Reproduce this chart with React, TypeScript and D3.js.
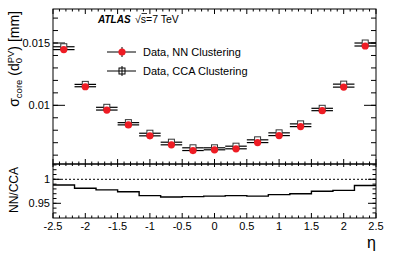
import React from "react";
import * as d3 from "d3";

// eta bin centres (15 bins of width 1/3)
const etaBins = [-2.333, -2, -1.667, -1.333, -1, -0.667, -0.333, 0, 0.333, 0.667, 1, 1.333, 1.667, 2, 2.333];
const binWidth = 0.3333;
// sigma_core(d0) in mm
const ccaValues = [0.0147, 0.01168, 0.00984, 0.00861, 0.00776, 0.00704, 0.00659, 0.00659, 0.00672, 0.00723, 0.00779, 0.00851, 0.00976, 0.0117, 0.015];
const nnValues = [0.01447, 0.01149, 0.00962, 0.00843, 0.00755, 0.00683, 0.00637, 0.00643, 0.00651, 0.00701, 0.00757, 0.00829, 0.00957, 0.01146, 0.01476];
const ratioValues = [0.988, 0.9815, 0.978, 0.974, 0.966, 0.963, 0.964, 0.965, 0.966, 0.965, 0.968, 0.97, 0.975, 0.977, 0.987];

const xTicks = [-2.5, -2, -1.5, -1, -0.5, 0, 0.5, 1, 1.5, 2, 2.5];
const xTickLabels = ["-2.5", "-2", "-1.5", "-1", "-0.5", "0", "0.5", "1", "1.5", "2", "2.5"];
const topTicks = [0.01, 0.015];
const topTickLabels = ["0.01", "0.015"];
const ratioTicks = [0.95, 1];
const ratioTickLabels = ["0.95", "1"];

const W = 407, H = 254;
const L = 53, R = 376;
const topY0 = 9, topY1 = 164, botY1 = 218;
const font = "'Liberation Sans', Arial, Helvetica, sans-serif";

export default function App() {
  const x = d3.scaleLinear().domain([-2.5, 2.5]).range([L, R]);
  const yTop = d3.scaleLinear().domain([0.00529, 0.01773]).range([topY1, topY0]);
  const yBot = d3.scaleLinear().domain([0.9194, 1.0319]).range([botY1, topY1]);

  const xMinor = d3.range(-25, 26).map(v => v / 10);
  const topMinor = d3.range(6, 18).map(v => v / 1000);
  const botMinor = d3.range(93, 104).map(v => v / 100);
  const isMajorX = (v: number) => Math.abs(v * 2 - Math.round(v * 2)) < 1e-6;

  const stepPts: [number, number][] = etaBins.map((e, i) => [e - binWidth / 2, ratioValues[i]]);
  stepPts.push([2.5, ratioValues[ratioValues.length - 1]]);
  const step = d3.line<[number, number]>().x(d => x(d[0])).y(d => yBot(d[1])).curve(d3.curveStepAfter);

  const ink = "#000";
  const sq = 6;

  return (
    <svg width={W} height={H} style={{ position: "absolute", left: 0, top: 0, background: "#fff" }} fontFamily={font}>
      <rect x={0} y={0} width={W} height={H} fill="#fff" />

      {/* ticks */}
      {xMinor.map((v, i) => {
        const maj = isMajorX(v);
        return (
          <g key={"xt" + i} stroke={ink} strokeWidth={1}>
            <line x1={x(v)} x2={x(v)} y1={topY1} y2={topY1 - (maj ? 5 : 2.5)} />
            <line x1={x(v)} x2={x(v)} y1={topY0} y2={topY0 + (maj ? 5 : 2.5)} />
            <line x1={x(v)} x2={x(v)} y1={topY1} y2={topY1 + (maj ? 3 : 2)} />
            <line x1={x(v)} x2={x(v)} y1={botY1} y2={botY1 - (maj ? 5 : 2.5)} />
          </g>
        );
      })}
      {topMinor.map((v, i) => (
        <g key={"ytm" + i} stroke={ink}>
          <line x1={L} x2={L + 5} y1={yTop(v)} y2={yTop(v)} />
          <line x1={R} x2={R - 5} y1={yTop(v)} y2={yTop(v)} />
        </g>
      ))}
      {topTicks.map((v, i) => (
        <g key={"ytM" + i}>
          <line x1={L} x2={L + 12} y1={yTop(v)} y2={yTop(v)} stroke={ink} />
          <line x1={R} x2={R - 12} y1={yTop(v)} y2={yTop(v)} stroke={ink} />
          <text x={L - 3} y={yTop(v)} dy="0.35em" textAnchor="end" fontSize={11}>{topTickLabels[i]}</text>
        </g>
      ))}
      {botMinor.map((v, i) => (
        <g key={"ybm" + i} stroke={ink}>
          <line x1={L} x2={L + 3.5} y1={yBot(v)} y2={yBot(v)} />
          <line x1={R} x2={R - 3.5} y1={yBot(v)} y2={yBot(v)} />
        </g>
      ))}
      {ratioTicks.map((v, i) => (
        <g key={"ybM" + i}>
          <line x1={L} x2={L + 8} y1={yBot(v)} y2={yBot(v)} stroke={ink} />
          <line x1={R} x2={R - 8} y1={yBot(v)} y2={yBot(v)} stroke={ink} />
          <text x={L - 3} y={yBot(v)} dy="0.35em" textAnchor="end" fontSize={11}>{ratioTickLabels[i]}</text>
        </g>
      ))}
      {xTicks.map((v, i) => (
        <text key={"xl" + i} x={x(v)} y={230} textAnchor="middle" fontSize={11}>{xTickLabels[i]}</text>
      ))}

      {/* frames */}
      <rect x={L} y={topY0} width={R - L} height={topY1 - topY0} fill="none" stroke={ink} strokeWidth={1} />
      <rect x={L} y={topY1} width={R - L} height={botY1 - topY1} fill="none" stroke={ink} strokeWidth={1} />

      {/* CCA points */}
      {etaBins.map((e, i) => (
        <g key={"c" + i}>
          <line x1={x(e - binWidth / 2)} x2={x(e + binWidth / 2)} y1={yTop(ccaValues[i])} y2={yTop(ccaValues[i])} stroke={ink} strokeWidth={1.2} />
          <rect x={x(e) - sq / 2} y={yTop(ccaValues[i]) - sq / 2} width={sq} height={sq} fill="#fff" stroke="#333" strokeWidth={1} />
        </g>
      ))}
      {/* NN points */}
      {etaBins.map((e, i) => (
        <g key={"n" + i}>
          <line x1={x(e - binWidth / 2)} x2={x(e + binWidth / 2)} y1={yTop(nnValues[i])} y2={yTop(nnValues[i])} stroke={ink} strokeWidth={1.2} />
          <circle cx={x(e)} cy={yTop(nnValues[i])} r={3.6} fill="#ee1c24" />
        </g>
      ))}

      {/* ratio */}
      <line x1={L} x2={R} y1={yBot(1)} y2={yBot(1)} stroke={ink} strokeDasharray="2,2" strokeWidth={1} />
      <path d={step(stepPts) ?? ""} fill="none" stroke={ink} strokeWidth={1.4} />

      {/* labels */}
      <text x={98} y={23} fontSize={10} fontWeight="bold" fontStyle="italic">ATLAS</text>
      <text x={135} y={23} fontSize={10.5}>√s=7 TeV</text>
      <line x1={141.5} x2={147} y1={13.5} y2={13.5} stroke={ink} strokeWidth={0.8} />

      {/* legend */}
      <g stroke={ink} strokeWidth={1}>
        <line x1={107} x2={136} y1={52} y2={52} />
        <line x1={122} x2={122} y1={47} y2={57} />
        <line x1={107} x2={136} y1={71} y2={71} />
        <line x1={122} x2={122} y1={66} y2={76} />
      </g>
      <circle cx={122} cy={52} r={3.6} fill="#ee1c24" />
      <rect x={122 - sq / 2} y={71 - sq / 2} width={sq} height={sq} fill="none" stroke={ink} />
      <text x={143} y={56} fontSize={11}>Data, NN Clustering</text>
      <text x={143} y={75} fontSize={11}>Data, CCA Clustering</text>

      {/* axis titles */}
      <text transform={`translate(19,11) rotate(-90)`} textAnchor="end" fontSize={14}>
        σ<tspan dy={3} fontSize={9.5}>core</tspan>
        <tspan dy={-3}> (d</tspan>
        <tspan dy={3} fontSize={9.5}>0</tspan>
        <tspan dx={-5.3} dy={-8.5} fontSize={9.5}>PV</tspan>
        <tspan dy={5.5}>) [mm]</tspan>
      </text>
      <text transform={`translate(18,167) rotate(-90)`} textAnchor="end" fontSize={12}>NN/CCA</text>
      <text x={376} y={248} textAnchor="end" fontSize={16}>η</text>
    </svg>
  );
}
